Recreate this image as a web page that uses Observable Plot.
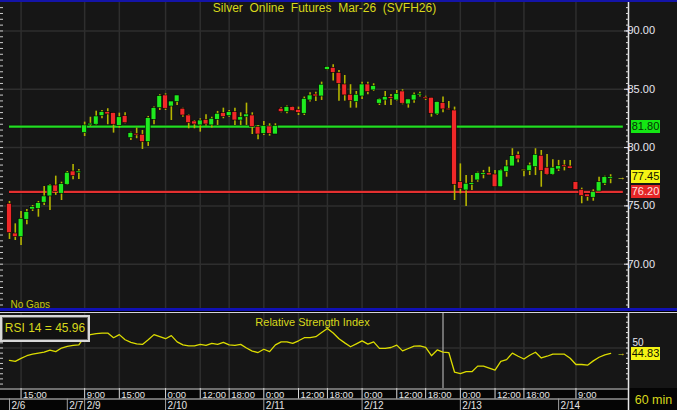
<!DOCTYPE html>
<html><head><meta charset="utf-8">
<script src="https://cdn.jsdelivr.net/npm/d3@7"></script>
<script src="https://cdn.jsdelivr.net/npm/@observablehq/plot@0.6"></script>
<style>
html,body{margin:0;padding:0;background:#000;}
#wrap{position:relative;width:677px;height:410px;overflow:hidden;background:#000;font-family:"Liberation Sans",Arial,sans-serif;}
</style></head><body><div id="wrap"></div>
<script>
// ---- data (60 min bars, index = bar number) ----
const opens  = [75.18,72.63,72.32,73.81,74.69,74.75,75.27,75.81,76.75,76.04,76.81,77.95,77.81,
  81.24,81.90,81.96,82.69,83.04,82.95,81.84,82.69,80.81,81.18,81.10,80.46,82.38,83.38,84.47,83.52,83.90,
  83.33,82.75,82.24,81.90,82.38,81.90,82.38,82.95,82.69,83.04,82.32,82.60,82.75,81.75,81.18,81.81,81.12,
  83.33,83.04,83.47,83.24,82.90,84.04,84.55,84.38,86.67,86.84,86.41,85.41,84.53,83.90,84.38,85.41,84.90,
  83.76,84.04,84.33,84.04,84.81,83.70,84.04,84.47,84.27,84.27,82.84,83.81,83.33,83.18,77.03,76.32,76.81,
  77.18,77.67,77.80,77.69,76.60,77.89,78.38,79.38,78.04,77.98,78.32,79.30,78.27,77.67,78.12,78.47,78.38,
  77.03,76.38,75.98,75.70,76.23,76.90,77.32];
const highs  = [75.38,73.46,74.52,74.69,75.03,75.38,76.66,76.84,77.55,77.03,77.95,78.55,78.12,
  82.18,82.60,83.12,83.18,83.33,82.95,82.95,82.98,81.32,81.67,81.47,82.67,83.47,84.53,84.61,83.95,84.47,
  83.38,82.81,82.32,82.47,82.81,82.61,83.10,83.38,83.18,83.38,82.98,83.81,82.98,81.90,82.24,82.04,82.04,
  83.41,83.56,83.50,83.47,84.33,84.70,84.75,85.61,86.95,87.10,86.61,86.18,85.39,84.81,85.61,85.61,85.47,
  84.18,84.81,84.55,84.90,84.96,84.13,84.67,84.75,84.40,84.27,83.90,84.33,83.95,83.47,78.60,77.60,77.60,
  77.89,78.04,78.32,78.04,78.10,78.90,79.90,79.61,78.06,78.67,79.90,79.75,79.41,78.95,78.90,78.90,78.90,
  77.03,76.52,75.98,76.38,77.46,77.55,77.67];
const lows   = [72.12,72.03,71.60,73.38,74.52,74.03,75.03,74.60,75.90,75.46,76.75,77.24,77.26,
  80.95,81.80,81.90,82.47,81.96,81.24,81.67,82.04,80.60,80.76,79.84,80.10,81.96,83.18,83.18,82.32,83.61,
  82.60,81.61,81.61,81.32,81.84,81.67,81.90,82.47,82.61,81.90,81.90,81.90,81.12,80.67,81.04,80.98,81.12,
  82.98,82.90,83.10,82.75,82.75,83.90,83.95,84.04,86.60,85.70,83.98,83.98,83.38,83.38,84.13,84.53,84.81,
  83.61,83.61,83.61,83.98,83.67,83.38,83.81,84.33,84.04,82.61,82.75,82.98,83.18,75.46,76.03,74.95,76.32,
  77.03,77.32,77.60,76.60,76.60,77.46,78.38,78.70,77.50,77.60,77.60,76.60,77.60,77.60,77.95,78.00,78.18,
  76.38,75.18,75.40,75.40,76.23,76.75,76.90];
const closes = [72.66,72.32,73.89,74.46,74.89,75.23,75.81,76.75,76.18,76.86,77.84,77.55,77.95,
  81.90,82.05,82.67,83.04,82.84,81.96,82.60,82.09,81.24,81.04,80.46,82.52,83.38,84.41,83.33,83.95,84.47,
  82.75,82.09,81.98,82.32,81.98,82.47,82.90,82.61,83.04,82.32,82.60,82.84,81.75,81.12,81.84,81.18,81.84,
  83.04,83.47,83.12,82.98,84.18,84.47,84.38,85.39,86.90,86.41,85.47,84.47,83.98,84.53,85.41,84.75,85.27,
  84.13,84.33,84.18,84.61,83.76,84.13,84.53,84.61,84.18,82.90,83.90,83.27,83.20,76.81,76.46,76.90,76.95,
  77.80,77.80,77.61,76.60,78.04,78.38,79.26,78.98,78.04,78.47,79.38,77.98,77.67,78.27,78.40,78.32,78.18,
  76.38,75.83,75.75,76.18,77.03,77.46,77.45];
const rsi = [38,37,40,42.5,44,45,46,48,46.5,50,
  51.5,52.5,53,61,63,64,64.5,64.5,60,63,
  58,55.5,54,53.5,58,63,61,59,62,56,
  53,52,52,53.5,52.5,54.5,53.5,55.5,53,52.5,
  53.5,50,47,45.6,48.8,46.5,53,56,56,54.5,
  57,60,60,61,65,69,64.5,59,55,51.2,
  54,56.9,53.8,56,49.7,49.7,50.5,52.8,47.2,49.5,
  51.9,52,50.6,42.5,48.1,45.96,45.6,26.5,25.2,27,
  27,32.4,32.4,30.5,28.6,37,38.7,45,42,39.3,
  43,45.9,40.3,42,44,44,44,40,34,34,
  33.3,37.5,41,43.4,44.83];
const timeTickIdx    = [2,13,19,27,33,38,44,50,55,61,67,72,78,84,89,98];
const timeTickLabels = ["15:00","9:00","15:00","0:00","12:00","18:00","0:00","12:00","18:00","0:00","12:00","18:00","0:00","12:00","18:00","9:00"];
const dateTickIdx    = [0,10,13,27,44,61,78,95];
const dateTickLabels = ["2/6","2/7","2/9","2/10","2/11","2/12","2/13","2/14"];
const priceTicks = [70,75,80,85,90];
const levelValues = [81.80, 76.20];
const levelColors = ["#22dd22", "#e43030"];
const cursorIdx = 75;
const lastPrice = 77.45;
const lastRsi = 44.83;
const title = "Silver  Online  Futures  Mar-26  (SVFH26)";

// ---- layout constants ----
const W = 677, MR = 49;
const xDomain = [-1.557, 107.09];
const GREEN = "#1fea1f", RED = "#f02828", OLIVE = "#b4b400", YEL = "#d8d81c";
const FONT = "Liberation Sans, Arial, sans-serif";

const bars = d3.range(opens.length).map(i => {
  const o = opens[i], c = closes[i];
  const lo = Math.min(o, c), hi = Math.max(o, c), mid = (lo + hi) / 2, mb = 0.13;
  return {i, o, h: highs[i], l: lows[i], c,
    b1: hi - lo < mb ? mid - mb / 2 : lo,
    b2: hi - lo < mb ? mid + mb / 2 : hi,
    col: c > o ? GREEN : c < o ? RED : OLIVE};
});
const levels = levelValues.map((v, k) => ({v, color: levelColors[k]}));
const timeLab = new Map(timeTickIdx.map((d, k) => [d, timeTickLabels[k]]));
const dateLab = new Map(dateTickIdx.map((d, k) => [d, dateTickLabels[k]]));

const wrap = document.getElementById("wrap");
function place(el, top) { el.style.position = "absolute"; el.style.left = "0px"; el.style.top = top + "px"; wrap.appendChild(el); return el; }
function div(css, text) { const d = document.createElement("div"); Object.assign(d.style, {position: "absolute"}, css); if (text != null) d.textContent = text; wrap.appendChild(d); return d; }

// ---- price panel ----
const price = Plot.plot({
  width: W, height: 308, marginLeft: 0, marginRight: MR, marginTop: 2, marginBottom: 0,
  style: {background: "#161616", color: "#e6e6f0", fontFamily: FONT, overflow: "visible"},
  x: {domain: xDomain, axis: null},
  y: {domain: [66.2, 92.44], axis: null},
  marks: [
    Plot.ruleX(timeTickIdx, {stroke: "#2e2e2e", strokeWidth: 1.5}),
    Plot.ruleY(priceTicks, {stroke: "#2e2e2e", strokeWidth: 1.5}),
    Plot.ruleY(levels, {y: "v", x1: 0, x2: opens.length + 1.2, stroke: "#000", strokeWidth: 3.5, strokeOpacity: 0.5}),
    Plot.ruleY(levels, {y: "v", x1: 0, x2: opens.length + 1.2, stroke: "color", strokeWidth: 2.2}),
    Plot.ruleX(bars, {x: "i", y1: "l", y2: "h", stroke: OLIVE, strokeWidth: 1.6}),
    Plot.rect(bars, {x1: d => d.i - 0.42, x2: d => d.i + 0.42, y1: "b1", y2: "b2", fill: "col", stroke: "#000", strokeWidth: 0.6}),
    Plot.ruleX([xDomain[1]], {stroke: "#e8e8e8", strokeWidth: 1.5}),
    Plot.axisY({anchor: "right", ticks: d3.range(66.5, 92.5, 0.5), tickSize: 3, dx: -3, tickFormat: () => "", color: "#dddddd"}),
    Plot.axisY({anchor: "right", ticks: priceTicks, tickSize: 5, dx: -5, tickPadding: -1, tickFormat: d => d.toFixed(2), fontSize: 11, color: "#e6e6f0"}),
    Plot.axisY({anchor: "left", ticks: d3.range(66.5, 92.5, 0.5), tickSize: 3, dx: 3, tickFormat: () => "", color: "#cccccc"}),
    Plot.text([title], {frameAnchor: "top", lineAnchor: "top", dy: 1, dx: 10, fill: YEL, fontSize: 12}),
    Plot.text(["No Gaps"], {frameAnchor: "bottom-left", textAnchor: "start", lineAnchor: "bottom", dx: 10, dy: -1, fill: "#c8c814", fontSize: 10}),
    Plot.text([lastPrice], {y: d => d, frameAnchor: "right", textAnchor: "end", dx: -3, text: () => "→", fill: YEL, fontSize: 9})
  ]
});
place(price, 0);

// ---- RSI panel ----
const rsiPlot = Plot.plot({
  width: W, height: 75, marginLeft: 0, marginRight: MR, marginTop: 0, marginBottom: 0,
  style: {background: "#161616", color: "#e6e6f0", fontFamily: FONT, overflow: "visible"},
  x: {domain: xDomain, axis: null},
  y: {domain: [10.68, 83.5], axis: null},
  marks: [
    Plot.ruleX(timeTickIdx, {stroke: "#2e2e2e", strokeWidth: 1.5}),
    Plot.ruleY([50], {stroke: "#2e2e2e", strokeWidth: 1.5}),
    Plot.ruleX([cursorIdx], {stroke: "#c8c8c8", strokeWidth: 1}),
    Plot.line(rsi, {x: (d, i) => i, y: d => d, stroke: "#dcdc00", strokeWidth: 1.3}),
    Plot.ruleX([xDomain[1]], {stroke: "#e8e8e8", strokeWidth: 1.5}),
    Plot.axisY({anchor: "right", ticks: d3.range(20, 81, 5), tickSize: 3, dx: -3, tickFormat: () => "", color: "#dddddd"}),
    Plot.axisY({anchor: "right", ticks: [50], tickSize: 0, tickPadding: 4, dy: -5, tickFormat: d => String(d), fontSize: 10, color: "#e6e6f0"}),
    Plot.axisY({anchor: "left", ticks: d3.range(15, 81, 5), tickSize: 3, dx: 3, tickFormat: () => "", color: "#cccccc"}),
    Plot.text(["Relative Strength Index"], {frameAnchor: "top", lineAnchor: "top", dy: 5, dx: -2, fill: YEL, fontSize: 11}),
    Plot.text([lastRsi], {y: d => d, frameAnchor: "right", textAnchor: "end", dx: -3, text: () => "→", fill: YEL, fontSize: 9})
  ]
});
place(rsiPlot, 313);

// ---- time axis ----
const axisPlot = Plot.plot({
  width: W, height: 22, marginLeft: 0, marginRight: MR, marginTop: 0, marginBottom: 0,
  style: {background: "#050505", color: "#e0e0e0", fontFamily: FONT, overflow: "visible"},
  x: {domain: xDomain, axis: null},
  y: {domain: [0, 22], range: [0, 22], axis: null},
  marks: [
    Plot.ruleY([0.5, 10.5], {stroke: "#d8d8d8", strokeWidth: 1}),
    Plot.ruleX(timeTickIdx, {y1: 0, y2: 10.5, stroke: "#d8d8d8", strokeWidth: 1}),
    Plot.ruleX(dateTickIdx, {y1: 10.5, y2: 22, stroke: "#a0a0a0", strokeWidth: 1}),
    Plot.text(timeTickIdx, {x: d => d, y: 6, text: d => timeLab.get(d), textAnchor: "start", dx: 2, fill: "#e4e4e4", fontSize: 9.5}),
    Plot.text(dateTickIdx, {x: d => d, y: 16.8, text: d => dateLab.get(d), textAnchor: "start", dx: 2, fill: "#e4e4e4", fontSize: 10}),
    Plot.ruleX([xDomain[1]], {stroke: "#e8e8e8", strokeWidth: 1.5}),
    Plot.text(["60 min"], {frameAnchor: "right", textAnchor: "middle", dx: 25, dy: 0, fill: YEL, fontSize: 12.5})
  ]
});
place(axisPlot, 388);

// ---- separator lines ----
div({left: "0px", top: "0px", width: W + "px", height: "1.5px", background: "#1414a8"});
div({left: "0px", top: "308px", width: W + "px", height: "2.5px", background: "#1010b4"});
div({left: "0px", top: "311.5px", width: W + "px", height: "1.8px", background: "#d4d4dc"});

// ---- value boxes at right ----
const ys = price.scale("y"), yr = rsiPlot.scale("y");
function valueBox(text, cy, bg, fg) {
  div({left: "631px", top: (cy - 6.5) + "px", width: "29px", height: "13px", lineHeight: "13px",
    background: bg, color: fg, fontSize: "11px", textAlign: "center", fontFamily: FONT}, text);
}
valueBox(levelValues[0].toFixed(2), ys.apply(levelValues[0]), "#14e614", "#063006");
valueBox(lastPrice.toFixed(2), ys.apply(lastPrice), "#f4f414", "#101000");
valueBox(levelValues[1].toFixed(2), ys.apply(levelValues[1]), "#e42626", "#ffe0e0");
valueBox(lastRsi.toFixed(2), 313 + yr.apply(lastRsi) + 1, "#f4f414", "#101000");

// ---- RSI readout box ----
div({left: "0px", top: "315px", width: "86px", height: "23px", border: "2px solid #d8d8d8",
  boxShadow: "inset 0 0 0 1px #666", background: "#111", color: YEL, fontSize: "12px",
  lineHeight: "23px", paddingLeft: "0px", textAlign: "center", fontFamily: FONT},
  "RSI 14 = " + rsi[cursorIdx].toFixed(2));
</script>
</body></html>
